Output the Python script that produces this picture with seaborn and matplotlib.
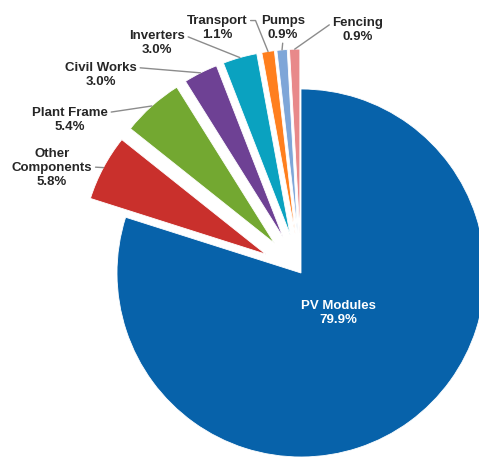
import numpy as np
import matplotlib
matplotlib.use("Agg")
import matplotlib.pyplot as plt
import seaborn as sns

# Cost breakdown (counter-clockwise from 12 o'clock)
labels = ["Fencing", "Pumps", "Transport", "Inverters", "Civil Works",
          "Plant Frame", "Other\nComponents", "PV Modules"]
shares = [0.9, 0.9, 1.1, 3.0, 3.0, 5.4, 5.8, 79.9]
colors = ["#E8898A", "#7EA6D8", "#FF7F1E", "#0AA2C0", "#6E4194",
          "#73A831", "#C9302C", "#0762AA"]

sns.set_theme(style="white")
plt.rcParams['font.family'] = ['Liberation Sans', 'DejaVu Sans']

# pixel geometry of the reference
R = 184.0
cx, cy = 301, 274


def to_data(x, y):
    return ((x - cx) / R, (cy - y) / R)


# label text centres (pixels) and where the leader leaves the text
label_pos = [(358, 30), (283, 28), (217, 28), (157, 43), (101, 75),
             (70, 120), (52, 168)]
relpos = [(0, 0.75), (0.5, 0), (1, 0.75), (1, 0.75), (1, 0.75),
          (1, 0.75), (1, 0.5)]
conn = ["arc3", "arc3", "angle,angleA=0,angleB=112,rad=0", "arc3", "arc3",
        "arc3", "arc3"]

fig = plt.figure(figsize=(4.79, 4.60), dpi=100)
ax = fig.add_axes([0, 0, 1, 1])

explode = [0.217] * 7 + [0]
wedges, _ = ax.pie(shares, colors=colors, startangle=90, counterclock=True,
                   explode=explode, radius=1,
                   wedgeprops=dict(edgecolor="white", linewidth=0.6))

for i, w in enumerate(wedges[:-1]):
    th = np.deg2rad((w.theta1 + w.theta2) / 2)
    xy = (w.center[0] + w.r * np.cos(th), w.center[1] + w.r * np.sin(th))
    ax.annotate(f"{labels[i]}\n{shares[i]:.1f}%", xy=xy,
                xytext=to_data(*label_pos[i]), ha="center", va="center",
                fontsize=9.5, fontweight="bold", color="#262626",
                arrowprops=dict(arrowstyle="-", color="#8c8c8c", lw=1,
                                shrinkA=0, shrinkB=0, relpos=relpos[i],
                                connectionstyle=conn[i]))

ax.text(*to_data(338, 313), f"{labels[-1]}\n{shares[-1]:.1f}%",
        ha="center", va="center", fontsize=9.5, fontweight="bold",
        color="white")

ax.set_xlim(-cx / R, (479 - cx) / R)
ax.set_ylim(-(460 - cy) / R, cy / R)
ax.set_aspect("equal")
ax.axis("off")

fig.savefig("out.png", dpi=100)
